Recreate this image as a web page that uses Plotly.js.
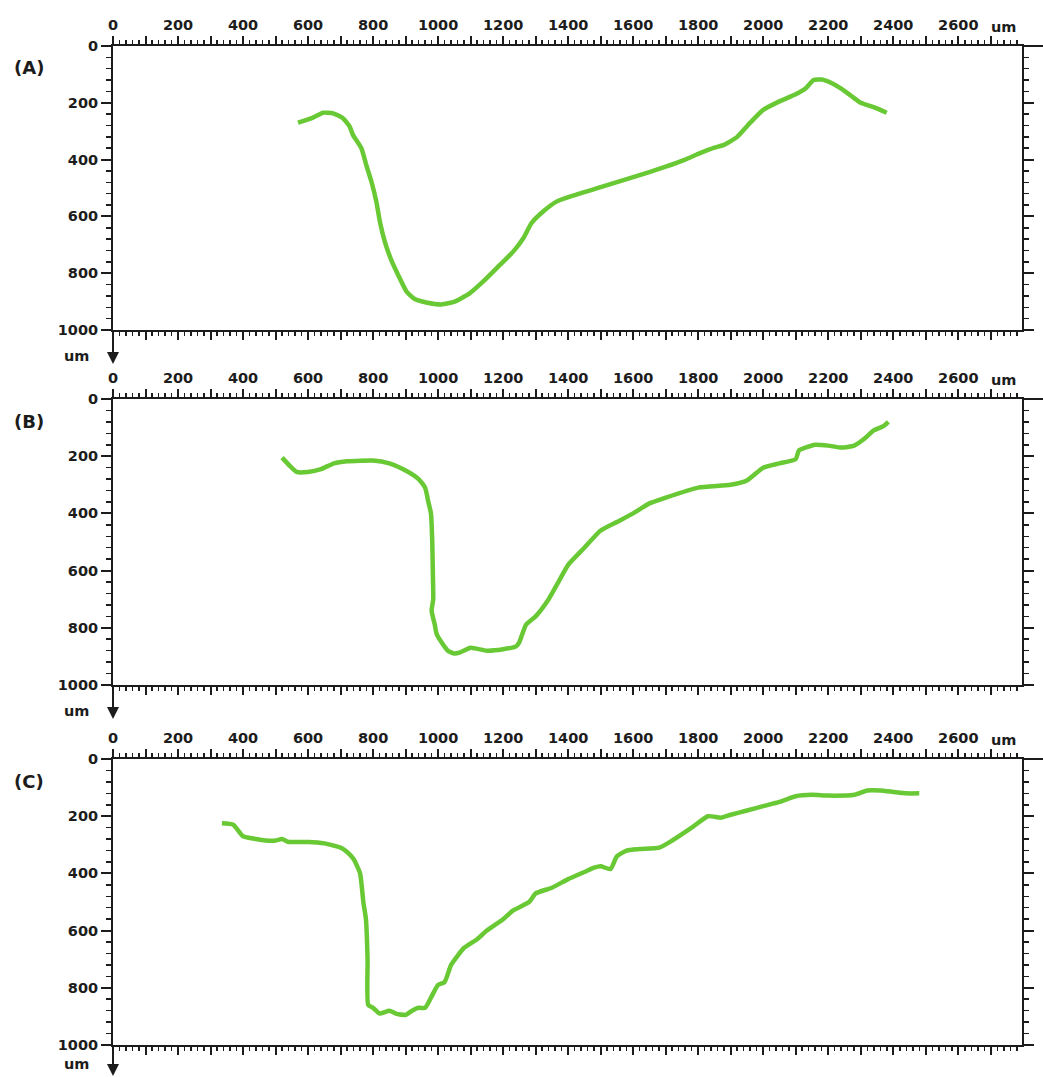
<!DOCTYPE html>
<html>
<head>
<meta charset="utf-8">
<script src="https://cdn.plot.ly/plotly-3.0.1.min.js"></script>
<style>html,body{margin:0;padding:0;background:#fff;}</style>
</head>
<body>
<div id="chart" style="width:1043px;height:1077px;"></div>
<script>
// ---- data (um) ----
const panelLabels = ["(A)", "(B)", "(C)"];
const xTickVals = [0,100,200,300,400,500,600,700,800,900,1000,1100,1200,1300,1400,1500,1600,1700,1800,1900,2000,2100,2200,2300,2400,2500,2600,2700];
const xTickText = ["0","","200","","400","","600","","800","","1000","","1200","","1400","","1600","","1800","","2000","","2200","","2400","","2600",""];
const yTickVals = [0,200,400,600,800,1000];
const yTickText = ["0","200","400","600","800","1000"];
const unitLabel = "um";

const aX = [569,615,646,677,708,728,738,764,779,795,810,821,836,856,877,903,928,964,1010,1051,1097,1138,1190,1231,1262,1287,1323,1364,1415,1500,1600,1700,1760,1800,1850,1880,1920,1960,2000,2050,2100,2130,2155,2180,2210,2240,2270,2300,2340,2380];
const aY = [270,252,235,237,255,284,313,360,419,478,548,619,689,754,806,865,891,903,910,900,871,830,771,724,677,624,583,548,527,497,462,425,400,380,358,348,320,270,225,195,170,150,120,118,130,150,175,200,215,235];

const bX = [520,545,565,600,640,680,720,800,850,900,940,960,970,978,982,984,985,980,990,995,1010,1030,1050,1070,1100,1150,1200,1240,1250,1270,1300,1340,1370,1400,1450,1500,1550,1600,1650,1700,1800,1900,1950,2000,2050,2100,2110,2160,2200,2240,2280,2310,2340,2370,2385];
const bY = [205,235,255,255,245,225,218,215,225,250,280,310,360,400,500,620,700,740,790,820,850,880,890,885,870,880,875,865,850,790,760,700,640,580,520,460,430,400,365,345,310,300,285,240,225,210,180,160,163,170,163,140,110,95,80];

const cX = [335,370,400,440,470,500,520,540,600,650,700,720,740,760,770,778,783,785,800,820,850,870,900,920,940,960,980,1000,1020,1040,1080,1120,1150,1200,1230,1280,1300,1350,1400,1450,1480,1500,1530,1550,1580,1620,1680,1720,1780,1830,1870,1900,1950,2000,2050,2100,2150,2200,2280,2320,2360,2400,2440,2480];
const cY = [225,230,270,280,285,285,280,290,290,295,310,325,350,400,500,560,700,860,870,890,880,890,895,880,870,870,830,790,780,720,660,630,600,560,530,500,470,450,420,395,380,375,385,340,320,315,310,285,240,200,205,195,180,165,150,130,125,128,125,110,110,115,120,120];

// ---- geometry helpers (pixel -> paper) ----
const W = 1043, H = 1077;
const M = {l:113, r:21, t:46, b:32};
const PW = W - M.l - M.r, PH = H - M.t - M.b;
const px2x = p => (p - M.l) / PW;
const py2y = p => (H - M.b - p) / PH;
const panels = [ {top:46, bot:330}, {top:399, bot:685}, {top:759, bot:1045} ];

const green = "#68c935";
const ink = "#1c1c1c";
const tickFont = {family:"DejaVu Sans, Verdana, sans-serif", size:14.5, color:ink, weight:"bold"};

const series = [[aX,aY],[bX,bY],[cX,cY]];
const traces = series.map((s,i) => ({
  x: s[0], y: s[1], type:"scatter", mode:"lines",
  xaxis: i===0 ? "x" : "x"+(i+1), yaxis: i===0 ? "y" : "y"+(i+1),
  line:{color:green, width:4.5, shape:"spline", smoothing:0.5},
  hoverinfo:"skip", showlegend:false
}));

const layout = {
  width:W, height:H, margin:M,
  paper_bgcolor:"#fff", plot_bgcolor:"#fff",
  showlegend:false, shapes:[], annotations:[]
};

panels.forEach((p,i) => {
  const sx = i===0 ? "" : String(i+1);
  const yid = "y"+sx, xid = "x"+sx;
  layout["xaxis"+sx] = {
    domain:[0,1], anchor:yid, side:"top", range:[0,2796],
    tickmode:"array", tickvals:xTickVals, ticktext:xTickText,
    ticks:"outside", ticklen:8, tickwidth:2, tickcolor:ink,
    showline:true, linewidth:2, linecolor:ink, mirror:"ticks",
    showgrid:false, zeroline:false, tickfont:tickFont,
    minor:{tickmode:"linear", tick0:0, dtick:20, ticks:"outside", ticklen:4, tickwidth:1.5, tickcolor:ink, showgrid:false},
    fixedrange:true
  };
  layout["yaxis"+sx] = {
    domain:[py2y(p.bot), py2y(p.top)], anchor:xid, range:[1000,0],
    tickmode:"array", tickvals:yTickVals, ticktext:yTickText,
    ticks:"outside", ticklen:10, tickwidth:2, tickcolor:ink,
    showline:true, linewidth:2, linecolor:ink, mirror:"ticks",
    showgrid:false, zeroline:false, tickfont:tickFont,
    minor:{tickmode:"linear", tick0:0, dtick:40, ticks:"outside", ticklen:5, tickwidth:1.5, tickcolor:ink, showgrid:false},
    fixedrange:true
  };
  // top axis line extension to page edge
  layout.shapes.push({type:"line", xref:"paper", yref:"paper",
    x0:1, x1:px2x(W), y0:py2y(p.top), y1:py2y(p.top), line:{color:ink, width:2}});
  // y axis extended down with arrow
  layout.annotations.push({xref:"paper", yref:"paper", x:0, y:py2y(p.bot+34),
    ax:0, ay:-34, text:"", showarrow:true, arrowhead:2, arrowsize:1.2, arrowwidth:2, arrowcolor:ink, standoff:0});
  // unit labels
  layout.annotations.push({xref:"paper", yref:"paper", x:px2x(76), y:py2y(Math.min(p.bot+26, 1064)),
    text:unitLabel, showarrow:false, font:tickFont, xanchor:"center", yanchor:"middle"});
  layout.annotations.push({xref:"paper", yref:"paper", x:px2x(1003), y:py2y(p.top-19),
    text:unitLabel, showarrow:false, font:tickFont, xanchor:"center", yanchor:"middle"});
  // panel label
  layout.annotations.push({xref:"paper", yref:"paper", x:px2x(29), y:py2y(p.top+22),
    text:panelLabels[i], showarrow:false, font:{family:"DejaVu Sans, Verdana, sans-serif", size:18, color:ink, weight:"bold"},
    xanchor:"center", yanchor:"middle"});
});

Plotly.newPlot("chart", traces, layout, {staticPlot:true, displayModeBar:false});
</script>
</body>
</html>
